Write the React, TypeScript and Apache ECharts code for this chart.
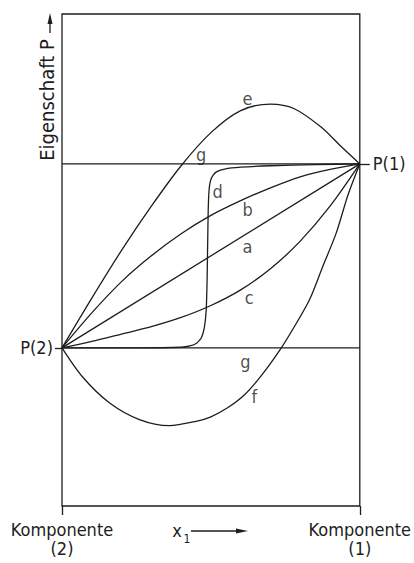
import React, { useEffect, useRef } from "react";
import * as echarts from "echarts";

// Normalized property scale: P(2) = 0, P(1) = 1; x1 from 0 (component 2) to 1 (component 1)
const xTickValues = [0, 1];
const xTickLabels = ["Komponente\n(2)", "Komponente\n(1)"];
const yLeftValue = [0];
const yRightValue = [1];
const yLeftLabel = "P(2)";
const yRightLabel = "P(1)";

const curveA = [[0, 0], [1, 1]];
const curveB = [[0, 0], [0.1, 0.19], [0.2, 0.36], [0.3, 0.5], [0.4, 0.62], [0.5, 0.72], [0.6, 0.8], [0.7, 0.87], [0.8, 0.93], [0.9, 0.97], [1, 1]];
const curveC = [[0, 0], [0.1, 0.035], [0.2, 0.075], [0.3, 0.115], [0.4, 0.165], [0.5, 0.23], [0.6, 0.315], [0.7, 0.43], [0.8, 0.58], [0.9, 0.77], [1, 1]];
const curveD = [[0, 0], [0.25, 0], [0.4, 0.003], [0.43, 0.01], [0.452, 0.025], [0.468, 0.055], [0.478, 0.11], [0.484, 0.2], [0.487, 0.35], [0.489, 0.55], [0.491, 0.75], [0.494, 0.86], [0.499, 0.91], [0.507, 0.938], [0.52, 0.958], [0.546, 0.972], [0.6, 0.982], [0.7, 0.99], [0.85, 0.996], [1, 1]];
const curveE = [[0, 0], [0.1, 0.27], [0.2, 0.53], [0.3, 0.77], [0.4, 0.99], [0.5, 1.17], [0.6, 1.29], [0.7, 1.325], [0.78, 1.3], [0.87, 1.2], [0.94, 1.09], [1, 1]];
const curveF = [[0, 0], [0.07, -0.16], [0.16, -0.3], [0.26, -0.39], [0.36, -0.423], [0.45, -0.4], [0.5, -0.375], [0.556, -0.326], [0.613, -0.255], [0.666, -0.158], [0.732, -0.011], [0.778, 0.109], [0.831, 0.261], [0.875, 0.44], [0.921, 0.625], [0.96, 0.83], [1, 1]];
const curveGUpper = [[0, 1], [1, 1]];
const curveGLower = [[0, 0], [1, 0]];

const curveLabels = [
  { name: "e", value: [0.623, 1.355] },
  { name: "g", value: [0.467, 1.049] },
  { name: "d", value: [0.523, 0.848] },
  { name: "b", value: [0.623, 0.75] },
  { name: "a", value: [0.623, 0.55] },
  { name: "c", value: [0.629, 0.272] },
  { name: "g", value: [0.616, -0.076] },
  { name: "f", value: [0.646, -0.266] },
];

const yTitle = "Eigenschaft P";
const xTitle = "x";
const xTitleSub = "1";

const INK = "#1d1d1d";
const FONT = "'DejaVu Sans Condensed', 'DejaVu Sans', sans-serif";

export default function App() {
  const ref = useRef<HTMLDivElement>(null);
  useEffect(() => {
    if (!ref.current) return;
    const chart = echarts.init(ref.current, undefined, { renderer: "svg" });
    const lineSeries = (name: string, data: number[][], smooth: number | boolean) => ({
      name,
      type: "line",
      data,
      smooth,
      symbol: "none",
      lineStyle: { color: INK, width: 1.3 },
      itemStyle: { color: INK },
      z: 3,
    });
    chart.setOption({
      animation: false,
      backgroundColor: "#fff",
      grid: {
        left: 62,
        top: 14,
        width: 302,
        height: 492,
        show: true,
        borderColor: INK,
        borderWidth: 1.3,
        backgroundColor: "transparent",
      },
      xAxis: {
        type: "value",
        min: 0,
        max: 1,
        interval: 1,
        axisLine: { show: true, onZero: false, lineStyle: { color: INK, width: 1.3, opacity: 0 } },
        axisTick: { show: true, customValues: xTickValues, length: 9, lineStyle: { color: INK, width: 1.3, opacity: 1 } },
        splitLine: { show: false },
        axisLabel: {
          show: true,
          customValues: xTickValues,
          margin: 14,
          color: INK,
          fontFamily: FONT,
          fontSize: 18,
          lineHeight: 19,
          formatter: (v: number) => xTickLabels[xTickValues.indexOf(v)] ?? "",
        },
      },
      yAxis: [
        {
          type: "value",
          position: "left",
          min: -0.86,
          max: 1.815,
          axisLine: { show: false },
          splitLine: { show: false },
          axisTick: { show: true, customValues: yLeftValue, length: 7, lineStyle: { color: INK, width: 1.3 } },
          axisLabel: {
            show: true,
            customValues: yLeftValue,
            margin: 9,
            color: INK,
            fontFamily: FONT,
            fontSize: 18,
            formatter: () => yLeftLabel,
          },
        },
        {
          type: "value",
          position: "right",
          min: -0.86,
          max: 1.815,
          axisLine: { show: false },
          splitLine: { show: false },
          axisTick: { show: true, customValues: yRightValue, length: 10, lineStyle: { color: INK, width: 1.3 } },
          axisLabel: {
            show: true,
            customValues: yRightValue,
            margin: 13,
            color: INK,
            fontFamily: FONT,
            fontSize: 18,
            formatter: () => yRightLabel,
          },
        },
      ],
      series: [
        lineSeries("a", curveA, false),
        lineSeries("b", curveB, 0.3),
        lineSeries("c", curveC, 0.3),
        lineSeries("d", curveD, 0.15),
        lineSeries("e", curveE, 0.3),
        lineSeries("f", curveF, 0.3),
        lineSeries("g-upper", curveGUpper, false),
        lineSeries("g-lower", curveGLower, false),
        {
          name: "labels",
          type: "scatter",
          data: curveLabels,
          symbolSize: 0,
          itemStyle: { color: INK },
          label: {
            show: true,
            position: "inside",
            formatter: "{b}",
            color: INK,
            fontFamily: FONT,
            fontSize: 18,
          },
          z: 4,
        },
      ],
      graphic: [
        {
          type: "text",
          x: 47,
          y: 100,
          rotation: Math.PI / 2,
          style: {
            text: yTitle,
            fill: INK,
            font: `20px ${FONT}`,
            align: "center",
            verticalAlign: "middle",
          },
        },
        { type: "line", shape: { x1: 50, y1: 33, x2: 50, y2: 20 }, style: { stroke: INK, lineWidth: 1.3 } },
        { type: "polygon", shape: { points: [[50, 13], [47.5, 24], [52.5, 24]] }, style: { fill: INK } },
        {
          type: "text",
          x: 177,
          y: 530,
          style: { text: xTitle, fill: INK, font: `18px ${FONT}`, align: "center", verticalAlign: "middle" },
        },
        {
          type: "text",
          x: 187,
          y: 539,
          style: { text: xTitleSub, fill: INK, font: `12px ${FONT}`, align: "center", verticalAlign: "middle" },
        },
        { type: "line", shape: { x1: 191, y1: 531, x2: 238, y2: 531 }, style: { stroke: INK, lineWidth: 1.3 } },
        { type: "polygon", shape: { points: [[248, 531], [236, 528.5], [236, 533.5]] }, style: { fill: INK } },
      ],
    });
    return () => chart.dispose();
  }, []);
  return (
    <div
      ref={ref}
      style={{ position: "fixed", left: 0, top: 0, width: 414, height: 563, background: "#fff" }}
    />
  );
}
